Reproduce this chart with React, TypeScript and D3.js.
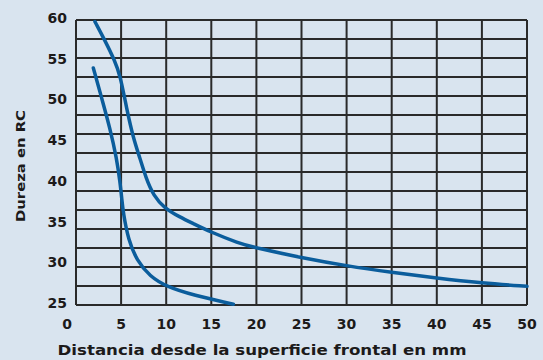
import React from "react";
import * as d3 from "d3";

// Hardness profile curves (distance from quenched end in mm vs. Rockwell C hardness)
const upperDistance = [2.1, 3.2, 4.3, 4.9, 5.6, 6.35, 7.1, 7.75, 8.6, 9.8, 11.5, 13.0, 14.85, 18.0, 20, 25, 30, 35, 40, 45, 50];
const upperHardness = [59.8, 57.5, 55.0, 53.2, 49.2, 45.5, 43.0, 40.6, 38.4, 36.9, 35.8, 35.0, 34.0, 32.6, 32.0, 30.8, 29.8, 29.0, 28.3, 27.7, 27.3];

const lowerDistance = [1.92, 2.85, 3.77, 4.51, 4.88, 5.07, 5.24, 5.8, 6.73, 8.2, 10.05, 13.0, 17.45];
const lowerHardness = [54.1, 50.4, 46.7, 43.0, 40.1, 38.1, 36.3, 33.0, 30.5, 28.5, 27.25, 26.2, 25.1];

const xTickValues = [0, 5, 10, 15, 20, 25, 30, 35, 40, 45, 50];
const yTickValues = [25, 30, 35, 40, 45, 50, 55, 60];
const hGridCount = 15;

const xTitle = "Distancia desde la superficie frontal en mm";
const yTitle = "Dureza en RC";

const W = 543;
const H = 360;
const M = { left: 76, right: 16, top: 20, bottom: 55 };

export default function App() {
  const x = d3.scaleLinear().domain([0, 50]).range([M.left, W - M.right]);
  const y = d3.scaleLinear().domain([25, 60]).range([H - M.bottom, M.top]);

  const hGrid = d3.range(hGridCount + 1).map((i) => 25 + (35 * i) / hGridCount);

  const line = d3
    .line<[number, number]>()
    .x((d) => x(d[0]))
    .y((d) => y(d[1]))
    .curve(d3.curveBasis);

  const upper = upperDistance.map((d, i) => [d, upperHardness[i]] as [number, number]);
  const lower = lowerDistance.map((d, i) => [d, lowerHardness[i]] as [number, number]);

  const font = "'DejaVu Sans', sans-serif";
  const ink = "#1c1a1a";
  const gridColor = "#2a2a2a";

  return (
    <svg
      width={W}
      height={H}
      style={{ position: "fixed", left: 0, top: 0, display: "block" }}
    >
      <rect x={0} y={0} width={W} height={H} fill="#d9e4ef" />
      <g>
        {hGrid.map((v, i) => (
          <line
            key={"h" + i}
            x1={x(0)}
            x2={x(50)}
            y1={y(v)}
            y2={y(v)}
            stroke={gridColor}
            strokeWidth={2}
          />
        ))}
        {xTickValues.map((v) => (
          <line
            key={"v" + v}
            x1={x(v)}
            x2={x(v)}
            y1={y(25)}
            y2={y(60)}
            stroke={gridColor}
            strokeWidth={2}
          />
        ))}
      </g>
      <path d={line(upper) || ""} fill="none" stroke="#0b5d9c" strokeWidth={3.5} strokeLinecap="round" />
      <path d={line(lower) || ""} fill="none" stroke="#0b5d9c" strokeWidth={3.5} strokeLinecap="round" />
      <g fontFamily={font} fontWeight="bold" fontSize={14} fill={ink}>
        {yTickValues.map((v) => (
          <text key={"yt" + v} x={67} y={y(v) - 2} textAnchor="end" dominantBaseline="central">
            {v}
          </text>
        ))}
        {xTickValues.map((v) => (
          <text key={"xt" + v} x={v === 0 ? x(v) - 9 : x(v)} y={324} textAnchor="middle" dominantBaseline="central">
            {v}
          </text>
        ))}
        <text x={262} y={355} textAnchor="middle" textLength={409} lengthAdjust="spacingAndGlyphs">
          {xTitle}
        </text>
        <text
          transform={`translate(25,166) rotate(-90)`}
          textAnchor="middle"
          fontSize={13}
          textLength={112}
          lengthAdjust="spacingAndGlyphs"
        >
          {yTitle}
        </text>
      </g>
    </svg>
  );
}
